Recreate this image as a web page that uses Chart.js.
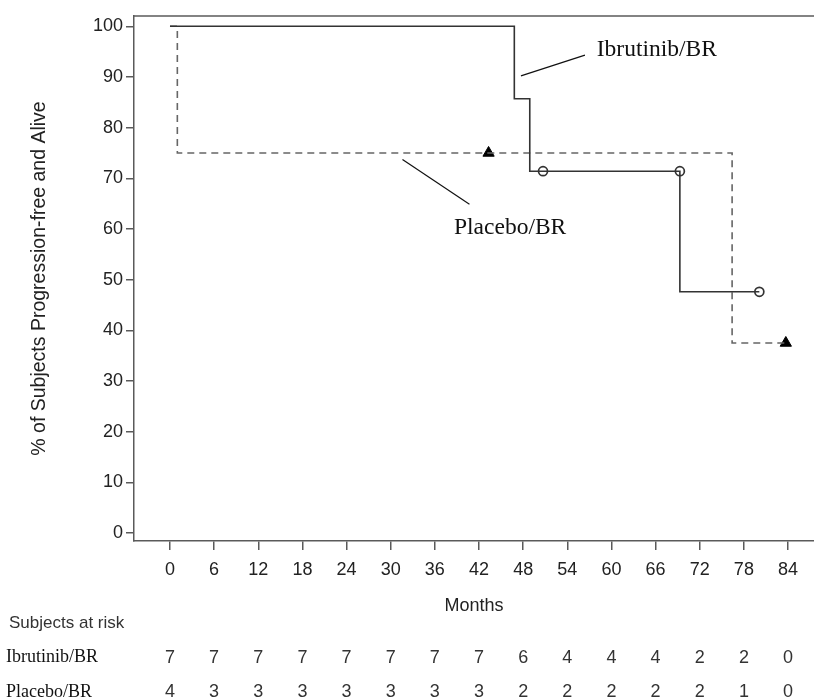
<!DOCTYPE html>
<html>
<head>
<meta charset="utf-8">
<script src="https://cdn.jsdelivr.net/npm/chart.js@4.4.1/dist/chart.umd.min.js"></script>
<style>
  html, body { margin: 0; padding: 0; background: #ffffff; }
  #wrap { width: 814px; height: 700px; position: relative; }
</style>
</head>
<body>
<div id="wrap"><canvas id="c" width="814" height="700"></canvas></div>
<script>
// ---- data ----
const monthTicks = [0, 6, 12, 18, 24, 30, 36, 42, 48, 54, 60, 66, 72, 78, 84];
const pctTicks = [0, 10, 20, 30, 40, 50, 60, 70, 80, 90, 100];

const ibrTimes = [0, 46.8, 48.9, 69.3, 80.1];
const ibrSurv  = [100, 85.7, 71.4, 47.6, 47.6];
const ibrCensorTimes = [50.7, 69.3, 80.1];
const ibrCensorSurv  = [71.4, 71.4, 47.6];

const pboTimes = [0, 1.0, 76.4, 83.7];
const pboSurv  = [100, 75, 37.5, 37.5];
const pboCensorTimes = [43.3, 83.7];
const pboCensorSurv  = [75, 37.5];

const riskIbr = [7, 7, 7, 7, 7, 7, 7, 7, 6, 4, 4, 4, 2, 2, 0];
const riskPbo = [4, 3, 3, 3, 3, 3, 3, 3, 2, 2, 2, 2, 2, 1, 0];

const seriesNames = ['Ibrutinib/BR', 'Placebo/BR'];
const riskTitle = 'Subjects at risk';
const xTitle = 'Months';
const yTitle = '% of Subjects Progression-free and Alive';

// label anchors in data units (month, %)
const ibrLabelAt = { x: 58.0, y: 94.1 };
const ibrLeader = [{ x: 47.7, y: 90.2 }, { x: 56.4, y: 94.3 }];
const pboLabelAt = { x: 38.6, y: 59.0 };
const pboLeader = [{ x: 31.6, y: 73.7 }, { x: 40.7, y: 64.9 }];

const SANS = '"Liberation Sans", Arial, Helvetica, sans-serif';
const SERIF = '"Liberation Serif", "Times New Roman", Times, serif';
const AXIS = '#5a5a5a';

const toXY = (xs, ys) => xs.map((x, i) => ({ x: x, y: ys[i] }));

const overlay = {
  id: 'overlay',
  afterDraw(chart) {
    const { ctx, chartArea, scales: { x, y } } = chart;
    ctx.save();
    // top frame line
    ctx.strokeStyle = AXIS;
    ctx.lineWidth = 1.5;
    ctx.beginPath();
    ctx.moveTo(chartArea.left, chartArea.top);
    ctx.lineTo(chartArea.right, chartArea.top);
    ctx.stroke();

    // leader lines
    ctx.strokeStyle = '#111';
    ctx.lineWidth = 1.2;
    [ibrLeader, pboLeader].forEach(seg => {
      ctx.beginPath();
      ctx.moveTo(x.getPixelForValue(seg[0].x), y.getPixelForValue(seg[0].y));
      ctx.lineTo(x.getPixelForValue(seg[1].x), y.getPixelForValue(seg[1].y));
      ctx.stroke();
    });

    // series labels
    ctx.fillStyle = '#111';
    ctx.font = '23.5px ' + SERIF;
    ctx.textAlign = 'left';
    ctx.textBaseline = 'alphabetic';
    ctx.fillText(seriesNames[0], x.getPixelForValue(ibrLabelAt.x), y.getPixelForValue(ibrLabelAt.y));
    ctx.fillText(seriesNames[1], x.getPixelForValue(pboLabelAt.x), y.getPixelForValue(pboLabelAt.y));

    // risk table
    ctx.fillStyle = '#333';
    ctx.font = '17px ' + SANS;
    ctx.fillText(riskTitle, 9, 628);
    ctx.fillStyle = '#111';
    ctx.font = '18px ' + SERIF;
    ctx.fillText(seriesNames[0], 6, 662);
    ctx.fillText(seriesNames[1], 6, 697);
    ctx.fillStyle = '#333';
    ctx.font = '18px ' + SANS;
    ctx.textAlign = 'center';
    monthTicks.forEach((m, i) => {
      const px = x.getPixelForValue(m);
      ctx.fillText(String(riskIbr[i]), px, 663);
      ctx.fillText(String(riskPbo[i]), px, 697);
    });
    ctx.restore();
  }
};

new Chart(document.getElementById('c'), {
  type: 'scatter',
  data: {
    datasets: [
      {
        label: seriesNames[0],
        data: toXY(ibrTimes, ibrSurv),
        showLine: true,
        stepped: 'before',
        borderColor: '#333',
        borderWidth: 1.6,
        pointRadius: 0,
        fill: false
      },
      {
        label: seriesNames[1],
        data: toXY(pboTimes, pboSurv),
        showLine: true,
        stepped: 'before',
        borderColor: '#666',
        borderWidth: 1.6,
        borderDash: [7, 5],
        pointRadius: 0,
        fill: false
      },
      {
        label: 'Ibrutinib censored',
        data: toXY(ibrCensorTimes, ibrCensorSurv),
        showLine: false,
        pointStyle: 'circle',
        pointRadius: 4.5,
        pointBorderWidth: 1.7,
        pointBorderColor: '#333',
        pointBackgroundColor: 'rgba(0,0,0,0)'
      },
      {
        label: 'Placebo censored',
        data: toXY(pboCensorTimes, pboCensorSurv),
        showLine: false,
        pointStyle: 'triangle',
        pointRadius: 6.5,
        pointBorderWidth: 1,
        pointBorderColor: '#000',
        pointBackgroundColor: '#000'
      }
    ]
  },
  options: {
    responsive: false,
    animation: false,
    events: [],
    layout: { autoPadding: false, padding: { top: 16, left: 0, right: 0, bottom: 0 } },
    plugins: { legend: { display: false }, tooltip: { enabled: false } },
    scales: {
      x: {
        type: 'linear',
        min: -4.89,
        max: 87.53,
        afterBuildTicks: s => { s.ticks = monthTicks.map(v => ({ value: v })); },
        afterFit: s => { s.height = 159; s.paddingLeft = 0; s.paddingRight = 0; },
        grid: { drawOnChartArea: false, drawTicks: true, tickLength: 9, color: AXIS, lineWidth: 1.5 },
        border: { display: true, color: AXIS, width: 1.5 },
        ticks: { color: '#222', font: { family: SANS, size: 18 }, padding: 9, maxRotation: 0, autoSkip: false },
        title: { display: true, text: xTitle, color: '#222', font: { family: SANS, size: 18 }, padding: { top: 0, bottom: 83 } }
      },
      y: {
        type: 'linear',
        min: -1.58,
        max: 102.03,
        afterBuildTicks: s => { s.ticks = pctTicks.map(v => ({ value: v })); },
        afterFit: s => { s.width = 134; s.paddingTop = 0; s.paddingBottom = 0; },
        grid: { drawOnChartArea: false, drawTicks: true, tickLength: 8, color: AXIS, lineWidth: 1.5 },
        border: { display: true, color: AXIS, width: 1.5 },
        ticks: { color: '#222', font: { family: SANS, size: 18 }, padding: 3, autoSkip: false },
        title: { display: true, text: yTitle, color: '#222', font: { family: SANS, size: 19.5 }, padding: { top: 28, bottom: 0 } }
      }
    }
  },
  plugins: [overlay]
});
</script>
</body>
</html>
